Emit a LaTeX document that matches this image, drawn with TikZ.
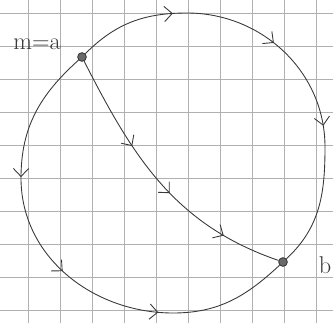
\documentclass[tikz,border=0pt]{standalone}
\usetikzlibrary{arrows.meta, positioning, decorations.markings}
\definecolor{pencil}{HTML}{383838}
\definecolor{paper}{HTML}{B0B0B0}
\tikzset{
  every picture/.style={line width=0.75pt},
  dot/.style={circle, fill=pencil!75, draw=pencil, inner sep=0pt, minimum size=2.6mm},
  lbl/.style={font=\huge, text=pencil},
  hand/.tip={Straight Barb[length=2.4mm, width=4.6mm]},
  flow/.style n args={3}{draw=pencil, postaction={decorate}, decoration={markings,
      mark=at position #1 with {\arrow{hand}},
      mark=at position #2 with {\arrow{hand}},
      mark=at position #3 with {\arrow{hand}}}},
}
\begin{document}
\begin{tikzpicture}[x=0.03cm, y=0.03cm]
  \useasboundingbox (0,0) rectangle (333,323);
  % squared paper
  \foreach \x in {28,60,...,316} \draw[paper, line width=0.5pt] (\x,0) -- (\x,323);
  \foreach \y in {13,46,...,310} \draw[paper, line width=0.5pt] (0,\y) -- (333,\y);
  % the two points
  \node[dot] (a) at (82,266) {};
  \node[dot] (b) at (283,61) {};
  \node[lbl] (ma) at (37,279) {m=a};
  \node[lbl] (bl) at (325,58) {b};
  % circle through a and b
  \coordinate (top) at (187,310);
  \coordinate (rt) at (325,176);
  \coordinate (lf) at (21,145);
  \coordinate (bt) at (173,10);
  \draw[flow={0.22}{0.46}{0.68}] (a) to[out=45,in=180] (top) to[out=0,in=90] (rt) to[out=-90,in=43] (b);
  \draw[flow={0.28}{0.5}{0.72}] (a) to[out=222,in=90] (lf) to[out=-90,in=180] (bt) to[out=0,in=223] (b);
  % chord
  \draw[flow={0.34}{0.55}{0.79}] (a) to[out=-63,in=161] (b);
\end{tikzpicture}
\end{document}
